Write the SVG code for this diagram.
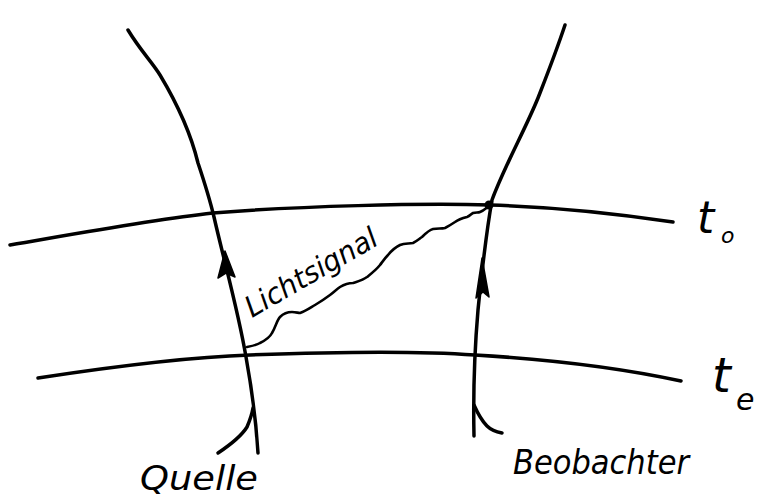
<svg xmlns="http://www.w3.org/2000/svg" width="761" height="501" viewBox="0 0 761 501">
<style>
.ln{fill:none;stroke:#000;stroke-width:3.5;stroke-linecap:round;stroke-linejoin:round}
.thin{fill:none;stroke:#000;stroke-width:2.6;stroke-linecap:round;stroke-linejoin:round}
.hw{font-family:"DejaVu Sans","Liberation Sans",sans-serif;font-style:italic;fill:#000}
.ar{fill:#000;stroke:#000;stroke-width:1.5;stroke-linejoin:round}
</style>
<rect width="761" height="501" fill="#fff"/>
<g id="surfaces">
<path class="ln" d="M10,245 C80,233 150,220 213,213 C300,206 420,203 490,205 C560,207 620,214 673,222"/>
<path class="ln" d="M38,378 C110,367 190,357 250,355 C330,352 420,351 475,355 C560,360 630,370 681,381"/>
</g>
<g id="worldlines">
<path class="ln" d="M128,30 C140,50 152,62 160,75 C175,100 190,130 198,163 C207,190 210,200 214,217 C225,265 238,310 246,357 C252,390 256,420 258,453"/>
<path class="ln" d="M565,25 C555,55 545,80 538,98 C525,130 505,165 492,200 C485,240 481,280 478,310 C475,345 473,390 474,436"/>
<path class="ar" d="M225,251 L218,278 L226,273 L235,277 Z"/>
<path class="ar" d="M482,258 L476,298 L483,292 L489,297 Z"/>
<circle cx="489" cy="205" r="4.5"/>
</g>
<g id="signal">
<path class="thin" d="M247,347 C252,346 257,345 260,343 C266,340 270,337 272,333 C276,326 277,320 280,317 C284,313 288,312 292,312 C296,312 298,313 300,313 C306,311 310,308 315,305 C320,302 326,298 330,295 C334,292 337,289 340,287 C345,284 349,283 353,283 C359,281 363,280 367,277 C372,273 376,270 380,265 C383,261 385,258 388,255 C392,250 396,247 400,245 C405,243 409,244 413,243 C417,241 419,239 422,237 C426,233 429,230 433,229 C438,228 441,229 445,228 C449,226 452,224 455,222 C459,219 463,218 467,217 C470,216 471,214 473,213 C476,212 478,213 480,212 C485,210 489,206 492,202"/>
<text class="hw" font-size="29" transform="translate(252,318) rotate(-30)" textLength="148" lengthAdjust="spacingAndGlyphs">Lichtsignal</text>
</g>
<g id="quelle">
<path class="ln" d="M218,453 C230,445 242,435 247,427 C250,420 252,414 253,408"/>
<text class="hw" x="140" y="490" font-size="34" textLength="118" lengthAdjust="spacingAndGlyphs">Quelle</text>
</g>
<g id="beobachter">
<path class="ln" d="M474,405 C478,414 482,421 487,426 C492,431 497,432 502,433"/>
<text class="hw" x="513" y="474" font-size="34" textLength="176" lengthAdjust="spacingAndGlyphs">Beobachter</text>
</g>
<g id="label-to">
<text class="hw" x="697" y="233" font-size="44">t</text>
<text class="hw" x="721" y="243" font-size="22">o</text>
</g>
<g id="label-te">
<text class="hw" x="712" y="392" font-size="48">t</text>
<text class="hw" x="736" y="410" font-size="30">e</text>
</g>
</svg>
